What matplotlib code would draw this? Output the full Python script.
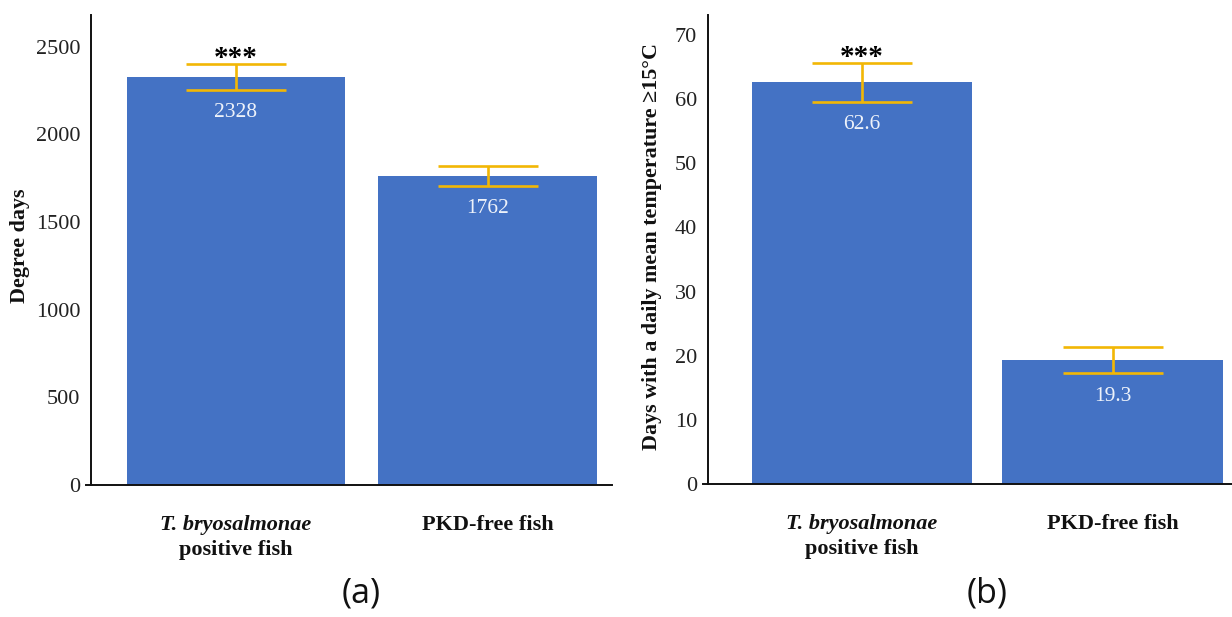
import matplotlib
matplotlib.use("Agg")
import matplotlib.pyplot as plt

# ---- data ----
groups = ["T. bryosalmonae\npositive fish", "PKD-free fish"]
degree_days = [2328, 1762]
degree_days_err = [73, 55]
days_ge15 = [62.6, 19.3]
days_ge15_err = [3.0, 2.05]
yticks_a = [0, 500, 1000, 1500, 2000, 2500]
yticks_b = [0, 10, 20, 30, 40, 50, 60, 70]
signif = ["***", ""]
panel_labels = ["(a)", "(b)"]

BLUE = "#4472C4"
GOLD = "#F2B705"
SERIF = ["Liberation Serif", "DejaVu Serif"]

fig = plt.figure(figsize=(12.32, 6.17), dpi=100)
W, H = 1232, 617

def make_axes(l, r, b, t):
    return fig.add_axes([l / W, (H - b) / H, (r - l) / W, (b - t) / H])

def draw(ax, vals, errs, yticks, ylim, xlim, spine_x, width, ylabel, ylabel_x, fmt, panel, panel_x):
    x = list(range(len(vals)))
    for s in ["top", "right"]:
        ax.spines[s].set_visible(False)
    ax.spines["left"].set_position(("data", spine_x))
    ax.spines["left"].set_linewidth(1.4)
    ax.spines["bottom"].set_linewidth(1.4)
    ax.spines["left"].set_color("#111111")
    ax.spines["bottom"].set_color("#111111")
    ax.bar(x, vals, width=width, color=BLUE, zorder=1)
    ax.errorbar(x, vals, yerr=errs, fmt="none", ecolor=GOLD, elinewidth=1.9,
                capsize=36, capthick=1.9, zorder=3)
    ax.set_xlim(*xlim)
    ax.set_ylim(*ylim)
    ax.set_yticks(yticks)
    ax.set_yticklabels([str(t) for t in yticks])
    for lab in ax.get_yticklabels():
        lab.set_fontfamily(SERIF)
        lab.set_fontsize(16)
        lab.set_color("#222222")
    ax.tick_params(axis="y", length=0, pad=8)
    ax.set_xticks([])
    # value labels
    for xi, v, e in zip(x, vals, errs):
        ax.annotate(fmt(v), xy=(xi, v - e), xytext=(0, -16.5), textcoords="offset points",
                    ha="center", va="center", color="#EEF2FA", fontsize=15.5, fontfamily=SERIF)
    for xi, v, e, s in zip(x, vals, errs, signif):
        if s:
            ax.annotate(s, xy=(xi, v + e), xytext=(0, -5.5), textcoords="offset points",
                        ha="center", va="bottom", color="black", fontsize=21,
                        fontweight="bold", fontfamily=SERIF)
    # category labels
    first, second = groups[0].split("\n")
    ax.annotate(first, xy=(0, 0), xycoords=("data", "axes fraction"), xytext=(0, -28.5),
                textcoords="offset points", ha="center", va="center", fontsize=16,
                fontstyle="italic", fontweight="bold", fontfamily=SERIF, color="#111111")
    ax.annotate(second, xy=(0, 0), xycoords=("data", "axes fraction"), xytext=(0, -46.5),
                textcoords="offset points", ha="center", va="center", fontsize=16,
                fontweight="bold", fontfamily=SERIF, color="#111111")
    ax.annotate(groups[1], xy=(1, 0), xycoords=("data", "axes fraction"), xytext=(0, -28.5),
                textcoords="offset points", ha="center", va="center", fontsize=16,
                fontweight="bold", fontfamily=SERIF, color="#111111")
    fig.text(ylabel_x / W, (H - 246) / H, ylabel, rotation=90, ha="center", va="center",
             fontsize=15.8, fontweight="bold", fontfamily=SERIF, color="#111111")
    fig.text(panel_x / W, (H - 593) / H, panel, ha="center", va="center",
             fontsize=24.5, fontfamily=["Open Sans", "DejaVu Sans"], color="#111111")

ax1 = make_axes(85.6, 612, 485, 15)
draw(ax1, degree_days, degree_days_err, yticks_a, (0, 2680), (-0.598, 1.495), -0.5746, 0.867,
     "Degree days", 20, lambda v: f"{v:.0f}", panel_labels[0], 361.5)

ax2 = make_axes(702.5, 1232, 484, 15)
draw(ax2, days_ge15, days_ge15_err, yticks_b, (0, 73.1), (-0.637, 1.477), -0.615, 0.88,
     "Days with a daily mean temperature ≥15°C", 652, lambda v: f"{v:.1f}", panel_labels[1], 987)

fig.savefig("out.png", dpi=100)
